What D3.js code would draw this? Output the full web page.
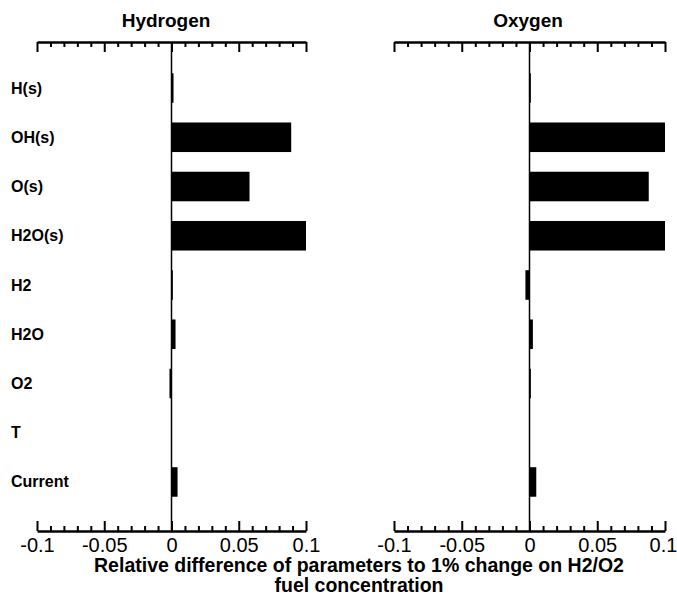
<!DOCTYPE html>
<html>
<head>
<meta charset="utf-8">
<script src="https://cdn.jsdelivr.net/npm/d3@7/dist/d3.min.js"></script>
<style>
  html, body { margin: 0; padding: 0; background: #fff; }
  svg { display: block; }
  text { font-family: "Liberation Sans", Arial, Helvetica, sans-serif; fill: #000; }
</style>
</head>
<body>
<svg id="chart" width="677" height="598"></svg>
<script>
// Sensitivity parameters (rows, top to bottom)
const categories = ["H(s)", "OH(s)", "O(s)", "H2O(s)", "H2", "H2O", "O2", "T", "Current"];

// Relative difference for a 1% change in hydrogen fuel concentration
const hydrogenValues = [0.0015, 0.089, 0.058, 0.1, 0.001, 0.003, -0.0015, 0, 0.0045];
// Relative difference for a 1% change in oxygen fuel concentration
const oxygenValues = [0.001, 0.1, 0.088, 0.1, -0.003, 0.0025, 0.001, 0, 0.005];

const panelTitles = ["Hydrogen", "Oxygen"];
const majorTicks = [-0.1, -0.05, 0, 0.05, 0.1];
const tickLabels = ["-0.1", "-0.05", "0", "0.05", "0.1"];
const minorTicks = [-0.09, -0.08, -0.07, -0.06, -0.04, -0.03, -0.02, -0.01,
                    0.01, 0.02, 0.03, 0.04, 0.06, 0.07, 0.08, 0.09];
const xLabelLines = ["Relative difference of parameters to 1% change on H2/O2", "fuel concentration"];

const svg = d3.select("#chart");

const axisTop = 42, axisBottom = 531;

const y = d3.scaleBand()
  .domain(categories)
  .range([63.4, 506.6])
  .paddingInner(0.4)
  .paddingOuter(0.2);

const panels = [
  { title: panelTitles[0], values: hydrogenValues, range: [37, 306], titleX: 166 },
  { title: panelTitles[1], values: oxygenValues, range: [394, 665], titleX: 528 }
];

panels.forEach((p, pi) => {
  const x = d3.scaleLinear().domain([-0.1, 0.1]).range(p.range);
  const g = svg.append("g");

  // Panel title
  g.append("text")
    .attr("x", p.titleX)
    .attr("y", 27)
    .attr("text-anchor", "middle")
    .style("font-weight", "bold")
    .style("font-size", "19px")
    .text(p.title);

  // Bars
  g.selectAll("rect.bar")
    .data(p.values)
    .join("rect")
    .attr("class", "bar")
    .attr("x", d => x(Math.min(0, d)))
    .attr("y", (d, i) => y(categories[i]))
    .attr("width", d => Math.abs(x(d) - x(0)))
    .attr("height", y.bandwidth())
    .attr("fill", "#000");

  // Zero reference line
  g.append("line")
    .attr("x1", x(0)).attr("x2", x(0))
    .attr("y1", axisTop).attr("y2", axisBottom)
    .attr("stroke", "#000")
    .attr("stroke-width", 1.5);

  // Top axis: major and minor ticks, no labels
  const topMajor = d3.axisTop(x).tickValues(majorTicks).tickSize(-10).tickSizeOuter(0).tickFormat("");
  const topMinor = d3.axisTop(x).tickValues(minorTicks).tickSize(-5).tickSizeOuter(0).tickFormat("");
  const gt = g.append("g").attr("transform", `translate(0,${axisTop})`);
  gt.call(topMajor);
  gt.append("g").call(topMinor).select(".domain").remove();

  // Bottom axis: major ticks labelled
  const botMajor = d3.axisBottom(x).tickValues(majorTicks).tickSize(-10).tickSizeOuter(0)
    .tickFormat((d, i) => tickLabels[i]).tickPadding(4);
  const botMinor = d3.axisBottom(x).tickValues(minorTicks).tickSize(-5).tickSizeOuter(0).tickFormat("");
  const gb = g.append("g").attr("transform", `translate(0,${axisBottom})`);
  gb.call(botMajor);
  gb.append("g").call(botMinor).select(".domain").remove();

  g.selectAll(".domain").attr("stroke", "#000").attr("stroke-width", 2.5);
  g.selectAll(".tick line").attr("stroke", "#000").attr("stroke-width", 2);
  gb.selectAll(".tick text")
    .attr("y", 21)
    .attr("dy", 0)
    .attr("x", (d, i) => (pi === 1 && i === majorTicks.length - 1) ? -2 : 0)
    .style("font-size", "20px")
    .style("font-family", "'Liberation Sans', Arial, sans-serif")
    .attr("fill", "#000");
});

// Category labels
svg.append("g").selectAll("text")
  .data(categories)
  .join("text")
  .attr("x", 11)
  .attr("y", d => y(d) + y.bandwidth() / 2)
  .attr("dominant-baseline", "central")
  .style("font-weight", "bold")
  .style("font-size", "16px")
  .text(d => d);

// Shared x-axis title
svg.append("g").selectAll("text")
  .data(xLabelLines)
  .join("text")
  .attr("x", 359)
  .attr("y", (d, i) => 572 + i * 20)
  .attr("text-anchor", "middle")
  .style("font-weight", "bold")
  .style("font-size", "19.5px")
  .text(d => d);
</script>
</body>
</html>
